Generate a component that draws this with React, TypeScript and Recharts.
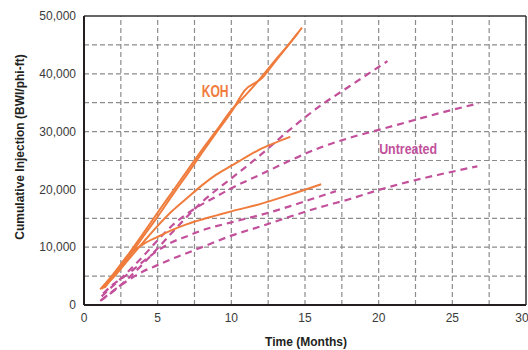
import React from 'react';
import { LineChart, Line, XAxis, YAxis, ReferenceLine, ReferenceDot } from 'recharts';

// ---- data ----
const koh1Months = [1.1, 2, 3, 4, 5, 6, 7, 8, 9, 10, 11, 12, 13, 14, 14.8];
const koh1Values = [2700, 5400, 8700, 12300, 16000, 19600, 23200, 26800, 30200, 33700, 36400, 39300, 42400, 45400, 48000];

const koh2Months = [1.4, 2, 3, 4, 5, 6, 7, 8, 9, 10, 10.9, 12.1, 13, 14.5];
const koh2Values = [3000, 5000, 8200, 11800, 15300, 19000, 22600, 26300, 29900, 33400, 37100, 39300, 42200, 47000];

const koh3Months = [1.2, 2, 3, 4, 5, 6, 7, 8, 9, 10, 11, 12, 13, 14];
const koh3Values = [2800, 4800, 7800, 10800, 13700, 16300, 18500, 20700, 22600, 24100, 25600, 27000, 28100, 29100];

const koh4Months = [1.3, 2, 3, 4, 5, 6, 7, 8, 9, 10, 12, 14, 16.1];
const koh4Values = [2900, 5200, 8600, 10500, 11800, 13000, 14000, 14800, 15500, 16200, 17500, 19100, 20900];

const unt1Months = [1.1, 2, 3, 4, 5, 6, 7, 8, 10, 12, 14, 16, 18, 20.6];
const unt1Values = [700, 2400, 4600, 7100, 9800, 12600, 15300, 17800, 21900, 26000, 30400, 34400, 37800, 42200];

const unt2Months = [1.2, 2, 3, 4, 5, 6, 7, 8, 9, 10, 12, 14, 16, 18, 20, 22, 24, 26.8];
const unt2Values = [1500, 3400, 5800, 8400, 11200, 13800, 15800, 17400, 18800, 20200, 22600, 25000, 27200, 28900, 30300, 31700, 33100, 34900];

const unt3Months = [1.2, 2, 3, 4, 5, 6, 7, 8, 10, 12, 14, 16, 18, 20, 22, 24, 26.7];
const unt3Values = [900, 2500, 4300, 5800, 6900, 8000, 9000, 10000, 12000, 13600, 15300, 16900, 18300, 19900, 21300, 22500, 24000];

const unt4Months = [1.3, 2, 3, 4, 5, 6, 7, 8, 10, 12, 14, 15.3, 17.1];
const unt4Values = [2000, 3600, 5400, 7500, 9400, 10900, 11900, 12900, 14300, 15600, 17100, 18200, 19700];

const xTicks = [0, 5, 10, 15, 20, 25, 30];
const yTicks = [0, 10000, 20000, 30000, 40000, 50000];
const xGrid = [2.5, 5, 7.5, 10, 12.5, 15, 17.5, 20, 22.5, 25, 27.5];
const yGrid = [5000, 10000, 15000, 20000, 25000, 30000, 35000, 40000, 45000];

const kohLabel = { m: 8.9, v: 37000, text: 'KOH' };
const untLabel = { m: 22.0, v: 27100, text: 'Untreated' };

const xTitle = 'Time (Months)';
const yTitle = 'Cumulative Injection (BWI/phi-ft)';

const toPts = (ms: number[], vs: number[]) => ms.map((m, i) => ({ m, v: vs[i] }));

const kohSeries = [
  toPts(koh1Months, koh1Values),
  toPts(koh2Months, koh2Values),
  toPts(koh3Months, koh3Values),
  toPts(koh4Months, koh4Values),
];
const untSeries = [
  toPts(unt1Months, unt1Values),
  toPts(unt2Months, unt2Values),
  toPts(unt3Months, unt3Values),
  toPts(unt4Months, unt4Values),
];

const ORANGE = '#EF7C3C';
const PURPLE = '#C2509B';
const GRID = '#8c8c8c';
const FONT = "'Liberation Sans', Arial, sans-serif";

export default function App() {
  return (
    <div style={{ position: 'absolute', left: 0, top: 0, width: 528, height: 350, background: '#fff' }}>
      <LineChart width={528} height={350} margin={{ top: 16, right: 2, bottom: 0, left: 0 }}>
        <XAxis
          type="number"
          dataKey="m"
          domain={[0, 30]}
          ticks={xTicks}
          allowDataOverflow
          height={45}
          axisLine={{ stroke: '#231f20', strokeWidth: 2 }}
          tickLine={false}
          tick={{ fill: '#3a3a3a', fontSize: 12, fontFamily: FONT }}
          label={{
            content: () => (
              <text x={306} y={346} textAnchor="middle" fontFamily={FONT} fontWeight="bold" fontSize={12} fill="#231f20">
                {xTitle}
              </text>
            ),
          }}
        />
        <YAxis
          type="number"
          dataKey="v"
          domain={[0, 50000]}
          ticks={yTicks}
          allowDataOverflow
          width={84}
          axisLine={{ stroke: '#231f20', strokeWidth: 2 }}
          tickLine={false}
          tickFormatter={(v: number) => v.toLocaleString('en-US')}
          tick={{ fill: '#3a3a3a', fontSize: 12, fontFamily: FONT }}
          label={{
            content: () => (
              <text
                x={0}
                y={0}
                transform="translate(24,147) rotate(-90)"
                textAnchor="middle"
                fontFamily={FONT}
                fontWeight="bold"
                fontSize={12}
                fill="#231f20"
              >
                {yTitle}
              </text>
            ),
          }}
        />
        {xGrid.map((x) => (
          <ReferenceLine key={'gx' + x} x={x} stroke={GRID} strokeDasharray="5 3" strokeWidth={1.2} />
        ))}
        {yGrid.map((y) => (
          <ReferenceLine key={'gy' + y} y={y} stroke={GRID} strokeDasharray="5 3" strokeWidth={1.2} />
        ))}
        <ReferenceLine y={50000} stroke="#333" strokeWidth={1.5} />
        <ReferenceLine x={30} stroke="#333" strokeWidth={1.5} />
        {untSeries.map((d, i) => (
          <Line
            key={'u' + i}
            data={d}
            dataKey="v"
            type="monotone"
            stroke={PURPLE}
            strokeWidth={2.2}
            strokeDasharray="7 5"
            dot={false}
            isAnimationActive={false}
          />
        ))}
        {kohSeries.map((d, i) => (
          <Line
            key={'k' + i}
            data={d}
            dataKey="v"
            type="monotone"
            stroke={ORANGE}
            strokeWidth={2}
            dot={false}
            isAnimationActive={false}
          />
        ))}
        <ReferenceDot
          x={kohLabel.m}
          y={kohLabel.v}
          r={0}
          shape={(p: any) => (
            <text x={p.cx} y={p.cy + 6} textAnchor="middle" fontFamily={FONT} fontWeight="bold" fontSize={16} fill={ORANGE} textLength={27} lengthAdjust="spacingAndGlyphs">
              {kohLabel.text}
            </text>
          )}
        />
        <ReferenceDot
          x={untLabel.m}
          y={untLabel.v}
          r={0}
          shape={(p: any) => (
            <text x={p.cx} y={p.cy + 6} textAnchor="middle" fontFamily={FONT} fontWeight="bold" fontSize={15.5} fill={PURPLE} textLength={58} lengthAdjust="spacingAndGlyphs">
              {untLabel.text}
            </text>
          )}
        />
      </LineChart>
    </div>
  );
}
